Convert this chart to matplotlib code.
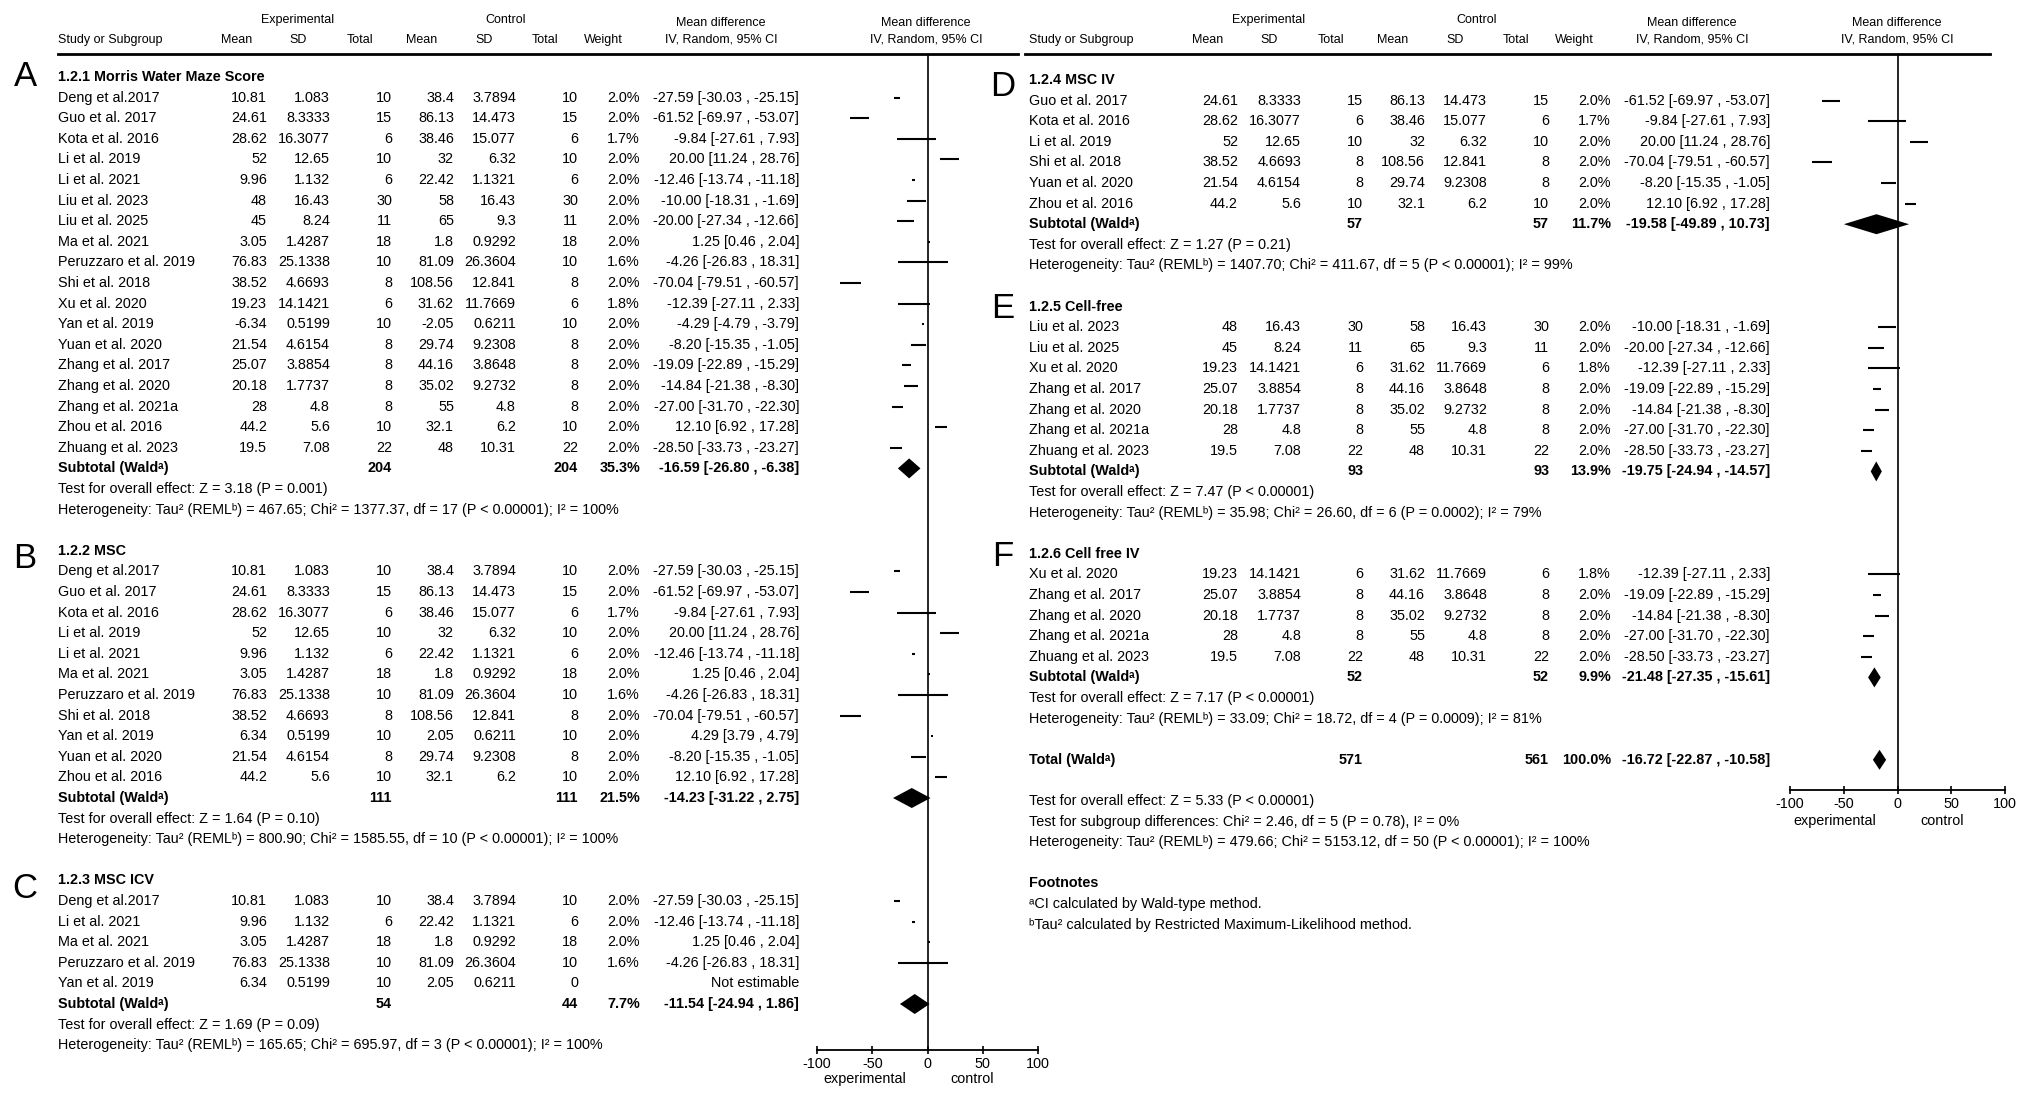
import matplotlib
matplotlib.use("Agg")
import matplotlib.pyplot as plt

plt.rcParams["font.family"] = ["Liberation Sans", "DejaVu Sans"]
plt.rcParams["axes.unicode_minus"] = False

# ---- data ----
# study, exp mean, exp SD, exp total, ctl mean, ctl SD, ctl total, weight %, MD, lower, upper
rows_a = [
    ("Deng et al.2017", 10.81, 1.083, 10, 38.4, 3.7894, 10, 2.0, -27.59, -30.03, -25.15),
    ("Guo et al. 2017", 24.61, 8.3333, 15, 86.13, 14.473, 15, 2.0, -61.52, -69.97, -53.07),
    ("Kota et al. 2016", 28.62, 16.3077, 6, 38.46, 15.077, 6, 1.7, -9.84, -27.61, 7.93),
    ("Li et al. 2019", 52, 12.65, 10, 32, 6.32, 10, 2.0, 20.00, 11.24, 28.76),
    ("Li et al. 2021", 9.96, 1.132, 6, 22.42, 1.1321, 6, 2.0, -12.46, -13.74, -11.18),
    ("Liu et al. 2023", 48, 16.43, 30, 58, 16.43, 30, 2.0, -10.00, -18.31, -1.69),
    ("Liu et al. 2025", 45, 8.24, 11, 65, 9.3, 11, 2.0, -20.00, -27.34, -12.66),
    ("Ma et al. 2021", 3.05, 1.4287, 18, 1.8, 0.9292, 18, 2.0, 1.25, 0.46, 2.04),
    ("Peruzzaro et al. 2019", 76.83, 25.1338, 10, 81.09, 26.3604, 10, 1.6, -4.26, -26.83, 18.31),
    ("Shi et al. 2018", 38.52, 4.6693, 8, 108.56, 12.841, 8, 2.0, -70.04, -79.51, -60.57),
    ("Xu et al. 2020", 19.23, 14.1421, 6, 31.62, 11.7669, 6, 1.8, -12.39, -27.11, 2.33),
    ("Yan et al. 2019", -6.34, 0.5199, 10, -2.05, 0.6211, 10, 2.0, -4.29, -4.79, -3.79),
    ("Yuan et al. 2020", 21.54, 4.6154, 8, 29.74, 9.2308, 8, 2.0, -8.20, -15.35, -1.05),
    ("Zhang et al. 2017", 25.07, 3.8854, 8, 44.16, 3.8648, 8, 2.0, -19.09, -22.89, -15.29),
    ("Zhang et al. 2020", 20.18, 1.7737, 8, 35.02, 9.2732, 8, 2.0, -14.84, -21.38, -8.30),
    ("Zhang et al. 2021a", 28, 4.8, 8, 55, 4.8, 8, 2.0, -27.00, -31.70, -22.30),
    ("Zhou et al. 2016", 44.2, 5.6, 10, 32.1, 6.2, 10, 2.0, 12.10, 6.92, 17.28),
    ("Zhuang et al. 2023", 19.5, 7.08, 22, 48, 10.31, 22, 2.0, -28.50, -33.73, -23.27),
]
rows_b = [
    ("Deng et al.2017", 10.81, 1.083, 10, 38.4, 3.7894, 10, 2.0, -27.59, -30.03, -25.15),
    ("Guo et al. 2017", 24.61, 8.3333, 15, 86.13, 14.473, 15, 2.0, -61.52, -69.97, -53.07),
    ("Kota et al. 2016", 28.62, 16.3077, 6, 38.46, 15.077, 6, 1.7, -9.84, -27.61, 7.93),
    ("Li et al. 2019", 52, 12.65, 10, 32, 6.32, 10, 2.0, 20.00, 11.24, 28.76),
    ("Li et al. 2021", 9.96, 1.132, 6, 22.42, 1.1321, 6, 2.0, -12.46, -13.74, -11.18),
    ("Ma et al. 2021", 3.05, 1.4287, 18, 1.8, 0.9292, 18, 2.0, 1.25, 0.46, 2.04),
    ("Peruzzaro et al. 2019", 76.83, 25.1338, 10, 81.09, 26.3604, 10, 1.6, -4.26, -26.83, 18.31),
    ("Shi et al. 2018", 38.52, 4.6693, 8, 108.56, 12.841, 8, 2.0, -70.04, -79.51, -60.57),
    ("Yan et al. 2019", 6.34, 0.5199, 10, 2.05, 0.6211, 10, 2.0, 4.29, 3.79, 4.79),
    ("Yuan et al. 2020", 21.54, 4.6154, 8, 29.74, 9.2308, 8, 2.0, -8.20, -15.35, -1.05),
    ("Zhou et al. 2016", 44.2, 5.6, 10, 32.1, 6.2, 10, 2.0, 12.10, 6.92, 17.28),
]
rows_c = [
    ("Deng et al.2017", 10.81, 1.083, 10, 38.4, 3.7894, 10, 2.0, -27.59, -30.03, -25.15),
    ("Li et al. 2021", 9.96, 1.132, 6, 22.42, 1.1321, 6, 2.0, -12.46, -13.74, -11.18),
    ("Ma et al. 2021", 3.05, 1.4287, 18, 1.8, 0.9292, 18, 2.0, 1.25, 0.46, 2.04),
    ("Peruzzaro et al. 2019", 76.83, 25.1338, 10, 81.09, 26.3604, 10, 1.6, -4.26, -26.83, 18.31),
    ("Yan et al. 2019", 6.34, 0.5199, 10, 2.05, 0.6211, 0, None, None, None, None),
]
rows_d = [
    ("Guo et al. 2017", 24.61, 8.3333, 15, 86.13, 14.473, 15, 2.0, -61.52, -69.97, -53.07),
    ("Kota et al. 2016", 28.62, 16.3077, 6, 38.46, 15.077, 6, 1.7, -9.84, -27.61, 7.93),
    ("Li et al. 2019", 52, 12.65, 10, 32, 6.32, 10, 2.0, 20.00, 11.24, 28.76),
    ("Shi et al. 2018", 38.52, 4.6693, 8, 108.56, 12.841, 8, 2.0, -70.04, -79.51, -60.57),
    ("Yuan et al. 2020", 21.54, 4.6154, 8, 29.74, 9.2308, 8, 2.0, -8.20, -15.35, -1.05),
    ("Zhou et al. 2016", 44.2, 5.6, 10, 32.1, 6.2, 10, 2.0, 12.10, 6.92, 17.28),
]
rows_e = [
    ("Liu et al. 2023", 48, 16.43, 30, 58, 16.43, 30, 2.0, -10.00, -18.31, -1.69),
    ("Liu et al. 2025", 45, 8.24, 11, 65, 9.3, 11, 2.0, -20.00, -27.34, -12.66),
    ("Xu et al. 2020", 19.23, 14.1421, 6, 31.62, 11.7669, 6, 1.8, -12.39, -27.11, 2.33),
    ("Zhang et al. 2017", 25.07, 3.8854, 8, 44.16, 3.8648, 8, 2.0, -19.09, -22.89, -15.29),
    ("Zhang et al. 2020", 20.18, 1.7737, 8, 35.02, 9.2732, 8, 2.0, -14.84, -21.38, -8.30),
    ("Zhang et al. 2021a", 28, 4.8, 8, 55, 4.8, 8, 2.0, -27.00, -31.70, -22.30),
    ("Zhuang et al. 2023", 19.5, 7.08, 22, 48, 10.31, 22, 2.0, -28.50, -33.73, -23.27),
]
rows_f = [
    ("Xu et al. 2020", 19.23, 14.1421, 6, 31.62, 11.7669, 6, 1.8, -12.39, -27.11, 2.33),
    ("Zhang et al. 2017", 25.07, 3.8854, 8, 44.16, 3.8648, 8, 2.0, -19.09, -22.89, -15.29),
    ("Zhang et al. 2020", 20.18, 1.7737, 8, 35.02, 9.2732, 8, 2.0, -14.84, -21.38, -8.30),
    ("Zhang et al. 2021a", 28, 4.8, 8, 55, 4.8, 8, 2.0, -27.00, -31.70, -22.30),
    ("Zhuang et al. 2023", 19.5, 7.08, 22, 48, 10.31, 22, 2.0, -28.50, -33.73, -23.27),
]

# exp total, ctl total, weight %, MD, lower, upper
subtotal_a = (204, 204, 35.3, -16.59, -26.80, -6.38)
subtotal_b = (111, 111, 21.5, -14.23, -31.22, 2.75)
subtotal_c = (54, 44, 7.7, -11.54, -24.94, 1.86)
subtotal_d = (57, 57, 11.7, -19.58, -49.89, 10.73)
subtotal_e = (93, 93, 13.9, -19.75, -24.94, -14.57)
subtotal_f = (52, 52, 9.9, -21.48, -27.35, -15.61)
total_all = (571, 561, 100.0, -16.72, -22.87, -10.58)

group_letters = ["A", "B", "C", "D", "E", "F"]
group_titles = ["1.2.1 Morris Water Maze Score", "1.2.2 MSC", "1.2.3 MSC ICV",
                "1.2.4 MSC IV", "1.2.5 Cell-free", "1.2.6 Cell free IV"]
group_tests = [
    "Test for overall effect: Z = 3.18 (P = 0.001)",
    "Test for overall effect: Z = 1.64 (P = 0.10)",
    "Test for overall effect: Z = 1.69 (P = 0.09)",
    "Test for overall effect: Z = 1.27 (P = 0.21)",
    "Test for overall effect: Z = 7.47 (P < 0.00001)",
    "Test for overall effect: Z = 7.17 (P < 0.00001)",
]
group_hets = [
    "Heterogeneity: Tau² (REMLᵇ) = 467.65; Chi² = 1377.37, df = 17 (P < 0.00001); I² = 100%",
    "Heterogeneity: Tau² (REMLᵇ) = 800.90; Chi² = 1585.55, df = 10 (P < 0.00001); I² = 100%",
    "Heterogeneity: Tau² (REMLᵇ) = 165.65; Chi² = 695.97, df = 3 (P < 0.00001); I² = 100%",
    "Heterogeneity: Tau² (REMLᵇ) = 1407.70; Chi² = 411.67, df = 5 (P < 0.00001); I² = 99%",
    "Heterogeneity: Tau² (REMLᵇ) = 35.98; Chi² = 26.60, df = 6 (P = 0.0002); I² = 79%",
    "Heterogeneity: Tau² (REMLᵇ) = 33.09; Chi² = 18.72, df = 4 (P = 0.0009); I² = 81%",
]
overall_lines = [
    "Test for overall effect: Z = 5.33 (P < 0.00001)",
    "Test for subgroup differences: Chi² = 2.46, df = 5 (P = 0.78), I² = 0%",
    "Heterogeneity: Tau² (REMLᵇ) = 479.66; Chi² = 5153.12, df = 50 (P < 0.00001); I² = 100%",
]
footnote_lines = ["ᵃCI calculated by Wald-type method.",
                  "ᵇTau² calculated by Restricted Maximum-Likelihood method."]
axis_ticks = [-100, -50, 0, 50, 100]
axis_labels = ["experimental", "control"]

# ---- layout (pixels of the 2032x1100 canvas) ----
W, H = 2032, 1100
FS = 10.4
FS_HEAD = 9
ROW_H = 20.6
STUDY_X = 58
COL_RIGHT = [267, 330, 392, 454, 516, 578, 640]
CI_RIGHT = 799
RIGHT_DX = 971

fig = plt.figure(figsize=(W / 100, H / 100), dpi=100)
canvas = fig.add_axes([0, 0, 1, 1])
canvas.set_xlim(0, W)
canvas.set_ylim(H, 0)
canvas.axis("off")


def txt(x, y, s, **kw):
    kw.setdefault("fontsize", FS)
    kw.setdefault("va", "center")
    canvas.text(x, y, s, **kw)


def ci_text(md, lo, hi):
    return f"{md:.2f} [{lo:.2f} , {hi:.2f}]"


def forest_axes(x_left, x_right, y_top, y_bottom, lab_y):
    fax = fig.add_axes([x_left / W, 1 - y_bottom / H,
                        (x_right - x_left) / W, (y_bottom - y_top) / H])
    fax.set_xlim(-100, 100)
    fax.set_ylim(y_bottom, y_top)
    fax.patch.set_visible(False)
    for s in ("top", "right", "left"):
        fax.spines[s].set_visible(False)
    fax.spines["bottom"].set_linewidth(1.3)
    fax.set_xticks(axis_ticks)
    fax.set_xticklabels([str(t) for t in axis_ticks])
    fax.tick_params(axis="x", direction="inout", length=6, width=1.2, labelsize=FS, pad=2)
    fax.set_yticks([])
    fax.axvline(0, color="black", lw=1.2)
    zero = (x_left + x_right) / 2
    txt(zero - 63, lab_y, axis_labels[0], ha="center")
    txt(zero + 45, lab_y, axis_labels[1], ha="center")
    return fax


def header(dx):
    txt(298 + dx, 20, "Experimental", fontsize=FS_HEAD, ha="center")
    txt(506 + dx, 20, "Control", fontsize=FS_HEAD, ha="center")
    txt(721 + dx, 23, "Mean difference", fontsize=FS_HEAD, ha="center")
    txt(926 + dx, 23, "Mean difference", fontsize=FS_HEAD, ha="center")
    txt(STUDY_X + dx, 40, "Study or Subgroup", fontsize=FS_HEAD)
    for x, s in zip([237, 298, 360, 422, 484, 545, 603],
                    ["Mean", "SD", "Total", "Mean", "SD", "Total", "Weight"]):
        txt(x + dx, 40, s, fontsize=FS_HEAD, ha="center")
    txt(721 + dx, 40, "IV, Random, 95% CI", fontsize=FS_HEAD, ha="center")
    txt(926 + dx, 40, "IV, Random, 95% CI", fontsize=FS_HEAD, ha="center")


def diamond(fax, md, lo, hi, y, h=10):
    fax.fill([lo, md, hi, md], [y, y - h, y, y + h], color="black", lw=0)


def summary_row(fax, dx, y, label, vals):
    n_e, n_c, w, md, lo, hi = vals
    txt(STUDY_X + dx, y, label, weight="bold")
    txt(COL_RIGHT[2] + dx, y, str(n_e), weight="bold", ha="right")
    txt(COL_RIGHT[5] + dx, y, str(n_c), weight="bold", ha="right")
    txt(COL_RIGHT[6] + dx, y, f"{w:.1f}%", weight="bold", ha="right")
    txt(CI_RIGHT + dx, y, ci_text(md, lo, hi), weight="bold", ha="right")
    diamond(fax, md, lo, hi, y)


def group(fax, dx, y0, start, idx, letter_y, rows, sub):
    def ry(r):
        return y0 + r * ROW_H
    txt(25 + dx + (7 if dx else 0), letter_y, group_letters[idx], fontsize=25, ha="center")
    txt(STUDY_X + dx, ry(start), group_titles[idx], weight="bold")
    for i, row in enumerate(rows):
        y = ry(start + 1 + i)
        txt(STUDY_X + dx, y, row[0])
        for xr, v in zip(COL_RIGHT[:6], row[1:7]):
            txt(xr + dx, y, f"{v:g}", ha="right")
        w, md, lo, hi = row[7:]
        if md is None:
            txt(CI_RIGHT + dx, y, "Not estimable", ha="right")
            continue
        txt(COL_RIGHT[6] + dx, y, f"{w:.1f}%", ha="right")
        txt(CI_RIGHT + dx, y, ci_text(md, lo, hi), ha="right")
        fax.hlines(y, lo, hi, color="black", lw=1.5)
        fax.plot(md, y, marker="s", ms=w ** 0.5 * 1.2, color="black", mew=0)
    n = len(rows)
    summary_row(fax, dx, ry(start + n + 1), "Subtotal (Waldᵃ)", sub)
    txt(STUDY_X + dx, ry(start + n + 2), group_tests[idx])
    txt(STUDY_X + dx, ry(start + n + 3), group_hets[idx])
    return start + n + 5


# left panel: A, B, C
header(0)
canvas.plot([58, 1018], [54, 54], color="black", lw=2)
fax_l = forest_axes(817, 1038, 54, 1050, 1079)
y0 = 77
r = group(fax_l, 0, y0, 0, 0, 76, rows_a, subtotal_a)
r = group(fax_l, 0, y0, r, 1, 559, rows_b, subtotal_b)
r = group(fax_l, 0, y0, r, 2, 888, rows_c, subtotal_c)

# right panel: D, E, F and the totals
header(RIGHT_DX)
canvas.plot([1025, 1990], [54, 54], color="black", lw=2)
fax_r = forest_axes(1790, 2005, 54, 790, 821)
y0 = 80
r = group(fax_r, RIGHT_DX, y0, 0, 3, 87, rows_d, subtotal_d)
r = group(fax_r, RIGHT_DX, y0, r, 4, 308, rows_e, subtotal_e)
r = group(fax_r, RIGHT_DX, y0, r, 5, 557, rows_f, subtotal_f)
summary_row(fax_r, RIGHT_DX, y0 + r * ROW_H, "Total (Waldᵃ)", total_all)
for k, line in enumerate(overall_lines):
    txt(STUDY_X + RIGHT_DX, y0 + (r + 2 + k) * ROW_H, line)
txt(STUDY_X + RIGHT_DX, y0 + (r + 6) * ROW_H, "Footnotes", weight="bold")
for k, line in enumerate(footnote_lines):
    txt(STUDY_X + RIGHT_DX, y0 + (r + 7 + k) * ROW_H, line)

fig.savefig("out.png", dpi=100, facecolor="white")
